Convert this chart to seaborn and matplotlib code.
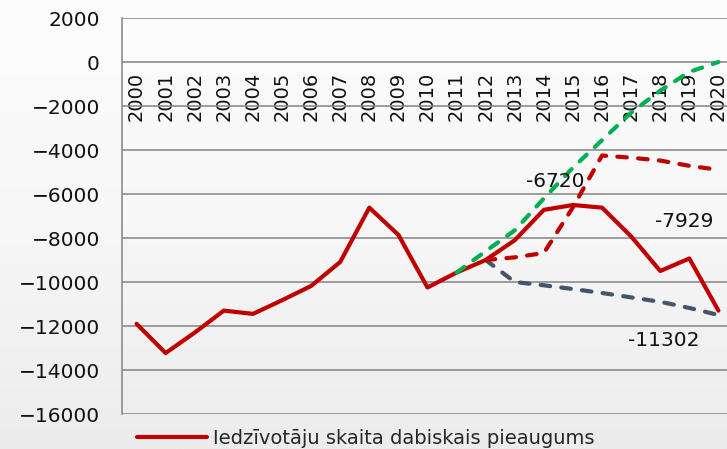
import numpy as np
import pandas as pd
import matplotlib
matplotlib.use("Agg")
import matplotlib.pyplot as plt
import seaborn as sns

years = list(range(2000, 2021))
natural_increase = [-11900, -13230, -12300, -11300, -11450, -10830, -10180, -9090,
                    -6620, -7860, -10250, -9570, -9000, -8100, -6720, -6500,
                    -6620, -7929, -9500, -8930, -11302]

green_years = list(range(2011, 2021))
green_values = [-9570, -8600, -7650, -6200, -4800, -3550, -2300, -1300, -450, 0]

red_years = list(range(2012, 2021))
red_values = [-9000, -8880, -8680, -6600, -4250, -4350, -4480, -4720, -4900]

blue_years = list(range(2012, 2021))
blue_values = [-9000, -10000, -10150, -10320, -10500, -10700, -10900, -11180, -11500]

legend_label = "Iedzīvotāju skaita dabiskais pieaugums"
labels = [(2014.38, -5410, "-6720"), (2018.83, -7270, "-7929"), (2018.11, -12640, "-11302")]

sns.set_style("white")
plt.rcParams['font.family'] = ['DejaVu Sans']

fig = plt.figure(figsize=(7.27, 4.49), dpi=100)

# soft grey background
bg = fig.add_axes([0, 0, 1, 1], zorder=0)
grad = np.linspace(0, 1, 256).reshape(-1, 1)
bg.imshow(grad, aspect='auto', cmap=matplotlib.colors.LinearSegmentedColormap.from_list(
    'bg', ['#fdfdfd', '#f7f7f7', '#ececec']), extent=[0, 1, 0, 1])
bg.set_axis_off()

ax = fig.add_axes([122 / 727, 35 / 449, 611 / 727, 396 / 449], zorder=1)
ax.set_facecolor('none')

dash = (0, (2.3, 2.7))
df = pd.DataFrame({'year': years, 'value': natural_increase})
sns.lineplot(data=df, x='year', y='value', ax=ax, color='#c00000', lw=3.0, zorder=3)
main_line = ax.lines[-1]
sns.lineplot(x=red_years, y=red_values, ax=ax, color='#c00000', lw=3.0, zorder=4)
ax.lines[-1].set(linestyle=dash, dash_capstyle='round')
sns.lineplot(x=blue_years, y=blue_values, ax=ax, color='#44546a', lw=3.0, zorder=2)
ax.lines[-1].set(linestyle=dash, dash_capstyle='round')
sns.lineplot(x=green_years, y=green_values, ax=ax, color='#00b050', lw=3.0, zorder=5)
ax.lines[-1].set(linestyle=dash, dash_capstyle='round')

for x, y, t in labels:
    ax.text(x, y, t, ha='center', va='center', fontsize=14.5, color='#111111', zorder=6)

ax.set_xlim(1999.5, 2020.5)
ax.set_ylim(-16000, 2000)
ax.set_yticks(range(-16000, 2001, 2000))
ax.set_xticks(years)
ax.set_xticklabels([str(y) for y in years])
ax.set_xlabel('')
ax.set_ylabel('')
ax.yaxis.grid(True, color='#8c8c8c', lw=1.2)
ax.set_axisbelow(True)

for s in ['top', 'right']:
    ax.spines[s].set_visible(False)
ax.spines['left'].set_color('#8c8c8c')
ax.spines['left'].set_linewidth(1.2)
ax.spines['bottom'].set_position(('data', 0))
ax.spines['bottom'].set_visible(False)
ax.tick_params(axis='y', length=0, pad=16, labelsize=14.5, labelcolor='#111111')
ax.tick_params(axis='x', length=0, pad=7, labelsize=14, labelcolor='#111111',
               labelrotation=90)

fig.legend(handles=[main_line], labels=[legend_label], loc='center left',
           bbox_to_anchor=(137 / 727, 11 / 449), frameon=False, fontsize=14,
           handlelength=3.6, handletextpad=0.3, borderpad=0, borderaxespad=0)

fig.savefig('out.png', dpi=100)
